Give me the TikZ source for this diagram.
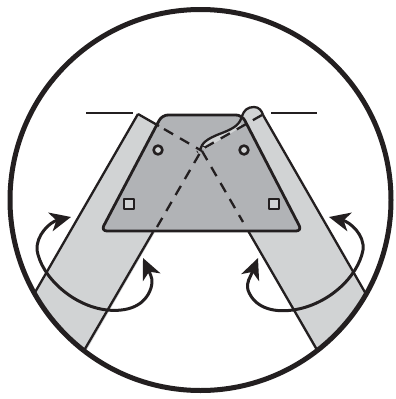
\documentclass[tikz,border=0pt]{standalone}
\usepackage{xcolor}
\usetikzlibrary{arrows.meta}
\definecolor{strapgray}{HTML}{D1D3D4}
\definecolor{plategray}{HTML}{B1B3B6}
\definecolor{inkblack}{HTML}{231F20}
\begin{document}
\begin{tikzpicture}[x=1pt,y=-1pt,line join=round,
turnarrow/.style={line width=3pt,draw=inkblack,{Stealth[length=21pt,width=19pt,inset=6pt]}-{Stealth[length=21pt,width=19pt,inset=6pt]}},
strapline/.style={line width=2.3pt,draw=inkblack},
dashline/.style={line width=2.3pt,draw=inkblack,dash pattern=on 10.5pt off 8pt}]
\useasboundingbox (0,0) rectangle (396,399);
\coordinate (c) at (200.5,200);
% straps
\begin{scope}
\clip (c) circle (190);
\fill[strapgray](138,114)--(202,151)--(82,358)--(28,305)--cycle;
\fill[strapgray](241,118)--(247,108)--(260,108)--(263,115)--(372,304)--(320,358)--(202,152)--cycle;
\draw[strapline](138,114)--(30,301);
\draw[strapline](153,232)--(82,354);
\draw[strapline](243,222)--(320,355);
\draw[strapline](263,115)--(370,301);
\end{scope}
% plate
\draw[line width=2.8pt,draw=inkblack,fill=plategray,rounded corners=6pt]
(162,115)--(242,115)--(302,231)--(101,231)--cycle;
\fill[strapgray](202,147)--(205,140)--(230,130)--(240,121)--(241,127)--(205,149)--cycle;
% dashed edges
\draw[strapline](138,114)--(159,126);
\draw[dashline](164,129)--(202,151);
\draw[dashline](202,151)--(243,222);
\draw[dashline](157,227)--(204,146);
\draw[dashline](262,115)--(197,152);
% curl
\draw[strapline](200,150)..controls (202,143) and (206,139) .. (222,133)
..controls (235,128) and (240,124) .. (242,116)
..controls (244,110) and (248,107) .. (254,107)
..controls (259,107) and (262,111) .. (263,115);
% holes
\draw[line width=2.6pt,draw=inkblack,fill=strapgray](158,150)circle(4.4);
\draw[line width=2.6pt,draw=inkblack,fill=strapgray](244,150)circle(4.4);
\draw[line width=2.6pt,draw=inkblack,fill=strapgray](124,199)rectangle(134,209);
\draw[line width=2.6pt,draw=inkblack,fill=strapgray](269,199)rectangle(279,209);
% marks
\draw[line width=1.1pt,draw=inkblack](86,113)--(133,113);
\draw[line width=1.1pt,draw=inkblack](271,113)--(317,113);
% arrows
\draw[turnarrow](71,217)..controls (50,222) and (36,235) .. (37,250)
..controls (41,276) and (72,306) .. (107,310)
..controls (128,312) and (145,306) .. (151,288)
..controls (153,280) and (152,278) .. (143,258);
\draw[turnarrow](329,217)..controls (350,222) and (365,235) .. (363,250)
..controls (358,277) and (328,305) .. (293,310)
..controls (272,313) and (254,307) .. (248,290)
..controls (246,282) and (250,278) .. (258,258);
% outer ring
\draw[line width=5pt,draw=inkblack](c)circle(190.5);
\end{tikzpicture}
\end{document}
